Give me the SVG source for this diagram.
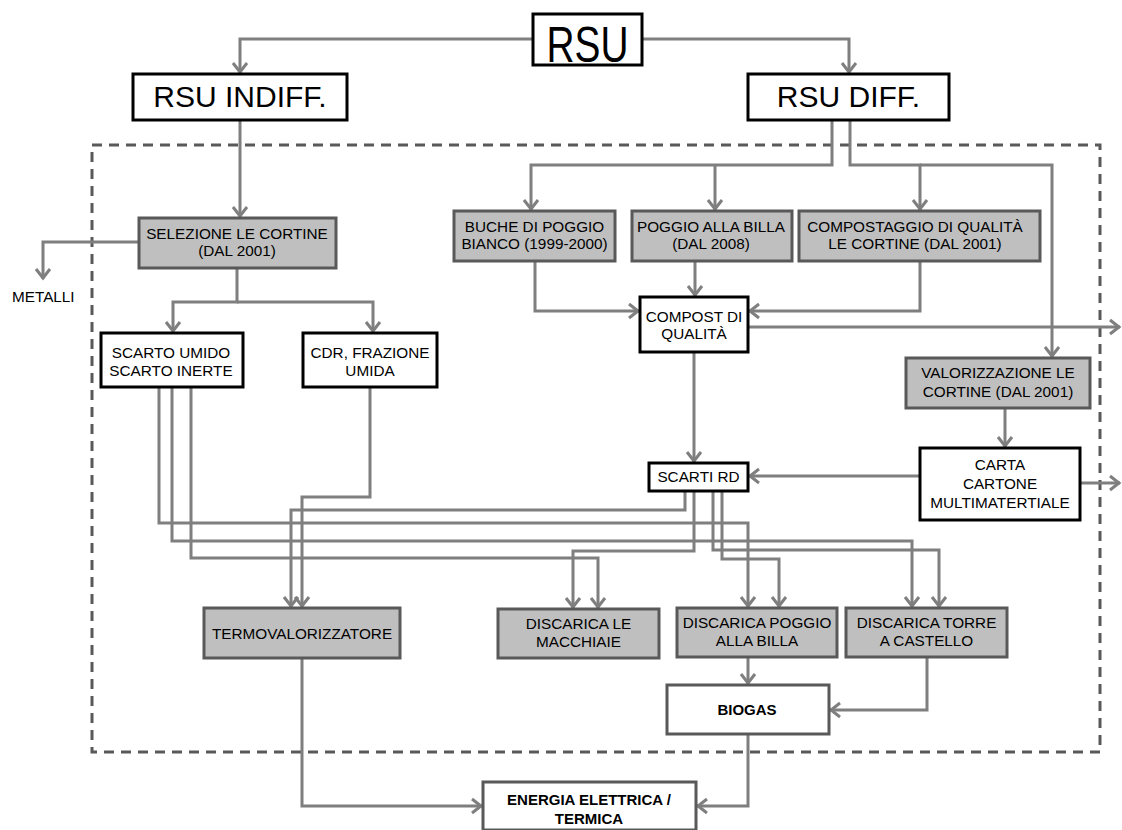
<svg xmlns="http://www.w3.org/2000/svg" width="1122" height="830" viewBox="0 0 1122 830">
  <style>
    .box { fill: #ffffff; stroke: #000000; stroke-width: 3; }
    .plant { fill: #bfbfbf; stroke: #595959; stroke-width: 3; }
    .out { fill: #ffffff; stroke: #595959; stroke-width: 3; }
    .t { font-family: "Liberation Sans", Arial, sans-serif; font-size: 15.3px; fill: #000; text-anchor: middle; }
    .b { font-weight: bold; font-size: 15px; }
    .big { font-size: 30px; }
    .conn path { fill: none; stroke: #7f7f7f; stroke-width: 3; marker-end: url(#arrow); }
    .frame { fill: none; stroke: #595959; stroke-width: 3; stroke-dasharray: 10 7; }
  </style>
  <defs>
    <marker id="arrow" markerUnits="userSpaceOnUse" markerWidth="24" markerHeight="24" viewBox="-12 -12 24 24" refX="0" refY="0" orient="auto" overflow="visible">
      <path d="M-10,-7 L-1,0 L-10,7" fill="none" stroke="#7f7f7f" stroke-width="3"/>
    </marker>
  </defs>

  <rect width="1122" height="830" fill="#ffffff"/>

  <!-- plant area boundary -->
  <rect class="frame" x="92" y="145" width="1008" height="607"/>

  <!-- connectors -->
  <g id="connectors" class="conn">
    <path d="M533,39 H240 V73"/>
    <path d="M642,39 H849 V73"/>
    <path d="M240,120 V217"/>
    <path d="M139,242 H43 V279"/>
    <path d="M237,268 V302 H173 V332"/>
    <path d="M237,302 H373 V332"/>
    <path d="M832,120 V165 H531 V210"/>
    <path d="M715,165 V210"/>
    <path d="M850,120 V165 H920 V210"/>
    <path d="M920,165 H1052 V357"/>
    <path d="M535,261 V311 H639"/>
    <path d="M695,261 V296"/>
    <path d="M920,261 V311 H749"/>
    <path d="M748,327 H1120"/>
    <path d="M694,352 V462"/>
    <path d="M1005,408 V447"/>
    <path d="M920,476 H749"/>
    <path d="M1080,483 H1120"/>
    <path d="M159,387 V523 H748 V607"/>
    <path d="M172,387 V541 H912 V607"/>
    <path d="M191,387 V558 H598 V608"/>
    <path d="M370,387 V497 H302 V607"/>
    <path d="M685,491 V510 H291 V607"/>
    <path d="M694,491 V551 H573 V608"/>
    <path d="M713,491 V550 H939 V607"/>
    <path d="M722,491 V559 H779 V607"/>
    <path d="M748,657 V684"/>
    <path d="M927,657 V710 H830"/>
    <path d="M302,658 V806 H482"/>
    <path d="M748,734 V806 H697"/>
  </g>

  <g id="rsu">
    <rect class="box" x="533" y="14" width="109" height="51"/>
    <text class="t" x="587.5" y="62" font-size="50" style="font-size:50px" textLength="82" lengthAdjust="spacingAndGlyphs">RSU</text>
  </g>
  <g id="rsu-indiff">
    <rect class="box" x="133" y="74" width="214" height="46"/>
    <text class="t big" x="240" y="107">RSU INDIFF.</text>
  </g>
  <g id="rsu-diff">
    <rect class="box" x="748" y="74" width="201" height="46"/>
    <text class="t big" x="848.5" y="107">RSU DIFF.</text>
  </g>

  <g id="selezione">
    <rect class="plant" x="139" y="218" width="197" height="50"/>
    <text class="t" x="237" y="239">SELEZIONE LE CORTINE</text>
    <text class="t" x="237" y="256">(DAL 2001)</text>
  </g>
  <g id="metalli">
    <text class="t" x="12" y="302" style="text-anchor:start">METALLI</text>
  </g>
  <g id="scarto">
    <rect class="box" x="101" y="333" width="142" height="54"/>
    <text class="t" x="171" y="358">SCARTO UMIDO</text>
    <text class="t" x="171" y="376">SCARTO INERTE</text>
  </g>
  <g id="cdr">
    <rect class="box" x="303" y="333" width="134" height="54"/>
    <text class="t" x="370" y="358">CDR, FRAZIONE</text>
    <text class="t" x="370" y="376">UMIDA</text>
  </g>

  <g id="buche">
    <rect class="plant" x="454" y="211" width="161" height="50"/>
    <text class="t" x="534.5" y="232">BUCHE DI POGGIO</text>
    <text class="t" x="534.5" y="249">BIANCO (1999-2000)</text>
  </g>
  <g id="poggio">
    <rect class="plant" x="632" y="211" width="160" height="50"/>
    <text class="t" x="711" y="232">POGGIO ALLA BILLA</text>
    <text class="t" x="711" y="249">(DAL 2008)</text>
  </g>
  <g id="compostaggio">
    <rect class="plant" x="799" y="211" width="241" height="50"/>
    <text class="t" x="915" y="232">COMPOSTAGGIO DI QUALITÀ</text>
    <text class="t" x="915" y="249">LE CORTINE (DAL 2001)</text>
  </g>
  <g id="compost">
    <rect class="box" x="640" y="297" width="108" height="55"/>
    <text class="t" x="694" y="322">COMPOST DI</text>
    <text class="t" x="694" y="339">QUALITÀ</text>
  </g>
  <g id="valorizzazione">
    <rect class="plant" x="906" y="358" width="184" height="50"/>
    <text class="t" x="998" y="378">VALORIZZAZIONE LE</text>
    <text class="t" x="998" y="397">CORTINE (DAL 2001)</text>
  </g>
  <g id="carta">
    <rect class="box" x="920" y="448" width="160" height="72"/>
    <text class="t" x="1000" y="470">CARTA</text>
    <text class="t" x="1000" y="489">CARTONE</text>
    <text class="t" x="1000" y="508">MULTIMATERTIALE</text>
  </g>
  <g id="scarti-rd">
    <rect class="box" x="649" y="463" width="99" height="28"/>
    <text class="t" x="698.5" y="482">SCARTI RD</text>
  </g>

  <g id="termovalorizzatore">
    <rect class="plant" x="204" y="608" width="196" height="50"/>
    <text class="t" x="302" y="638.5">TERMOVALORIZZATORE</text>
  </g>
  <g id="macchiaie">
    <rect class="plant" x="498" y="609" width="161" height="49"/>
    <text class="t" x="578.5" y="629">DISCARICA LE</text>
    <text class="t" x="578.5" y="647">MACCHIAIE</text>
  </g>
  <g id="discarica-poggio">
    <rect class="plant" x="677" y="608" width="160" height="49"/>
    <text class="t" x="757" y="628">DISCARICA POGGIO</text>
    <text class="t" x="757" y="646">ALLA BILLA</text>
  </g>
  <g id="torre">
    <rect class="plant" x="846" y="608" width="161" height="49"/>
    <text class="t" x="926.5" y="628">DISCARICA TORRE</text>
    <text class="t" x="926.5" y="646">A CASTELLO</text>
  </g>
  <g id="biogas">
    <rect class="out" x="667" y="685" width="162" height="49"/>
    <text class="t b" x="747" y="715">BIOGAS</text>
  </g>
  <g id="energia">
    <rect class="out" x="483" y="782" width="213" height="48"/>
    <text class="t b" x="589" y="805">ENERGIA ELETTRICA /</text>
    <text class="t b" x="589" y="824">TERMICA</text>
  </g>
</svg>
